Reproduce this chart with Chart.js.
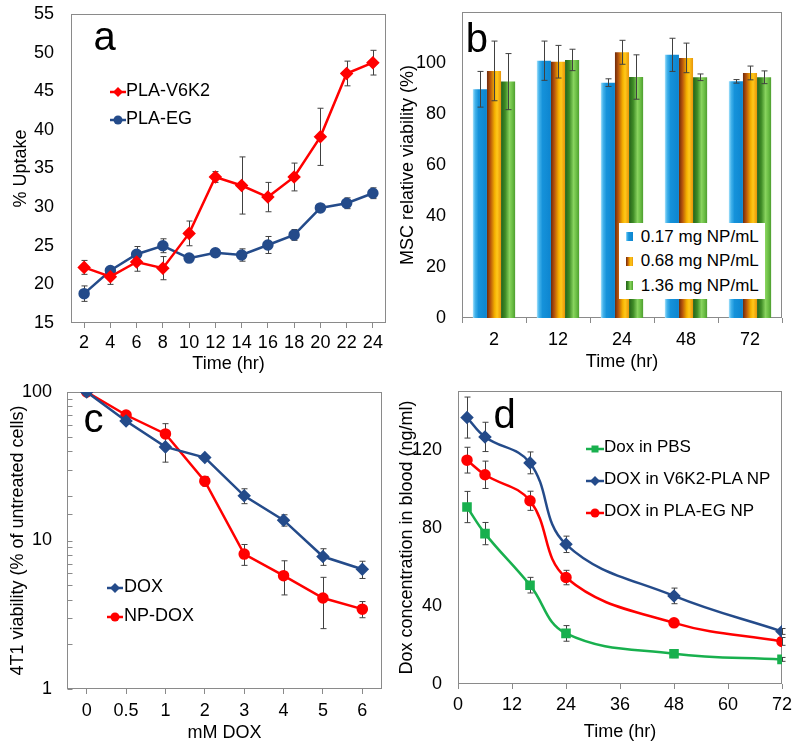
<!DOCTYPE html>
<html><head><meta charset="utf-8">
<script src="https://cdn.jsdelivr.net/npm/chart.js@4.4.0/dist/chart.umd.min.js"></script>
<style>
html,body{margin:0;padding:0;background:#fff;}
#wrap{position:relative;width:800px;height:751px;overflow:hidden;font-family:"Liberation Sans",Arial,Helvetica,sans-serif;color:#000;}
#wrap canvas{position:absolute;}
.letter{position:absolute;font-size:40px;line-height:40px;white-space:nowrap;}
.legtxt{position:absolute;white-space:nowrap;}
.legsw{position:absolute;}
#legB{position:absolute;background:#fff;}
</style>
</head><body>
<div id="wrap">
  <canvas id="cA" width="400" height="375" style="left:0;top:0"></canvas>
  <canvas id="cB" width="404" height="375" style="left:396px;top:0"></canvas>
  <canvas id="cC" width="400" height="376" style="left:0;top:375px"></canvas>
  <canvas id="cD" width="404" height="376" style="left:396px;top:375px"></canvas>
</div>
<script>
// ---------- data ----------
// panel a
const uptakeTimes = ['2','4','6','8','10','12','14','16','18','20','22','24'];
const uptakeV6K2 = [22.2,21.0,22.9,22.1,26.6,33.9,32.8,31.3,33.9,39.1,47.3,48.7];
const uptakeV6K2Err = [0.9,1.0,1.2,1.5,1.6,0.7,3.7,1.9,1.8,3.7,1.6,1.6];
const uptakeEG = [18.8,21.8,23.9,25.0,23.4,24.1,23.8,25.1,26.4,29.9,30.5,31.8];
const uptakeEGErr = [1.0,0.5,1.0,0.9,0.3,0.3,0.8,1.1,0.7,0.4,0.7,0.7];
// panel b
const viabTimes = ['2','12','24','48','72'];
const viab017 = [89.7,100.9,92.3,103.2,92.8];
const viab017Err = [7.0,7.7,1.5,6.5,0.7];
const viab068 = [96.9,100.5,104.2,102.0,96.1];
const viab068Err = [11.7,6.4,4.7,5.8,2.7];
const viab136 = [92.7,101.2,94.5,94.4,94.4];
const viab136Err = [11.0,4.2,8.7,1.3,2.5];
// panel c
const doxConc = ['0','0.5','1','2','3','4','5','6'];
const doxFree = [100,63.8,42.7,36.2,20.0,13.7,7.8,6.4];
const doxFreeErr = [0,0,9,0,2.3,1.2,1.0,0.85];
const doxNP = [100,70.0,52.2,25.1,8.1,5.8,4.1,3.45];
const doxNPErr = [0,0,9,1.9,1.3,1.5,1.55,0.43];
// panel d
const pkTimes = [2,6,16,24,48,72];
const pkPBS = [90.6,77.0,50.6,25.9,15.5,12.6];
const pkPBSErr = [8,5.7,4,4,2,1];
const pkV6K2 = [136.4,126.5,113.2,71.5,45.1,26.9];
const pkV6K2Err = [10.5,7.5,5.6,4.2,4,1.5];
const pkEG = [114.6,107.1,93.8,54.5,31.3,21.8];
const pkEGErr = [6.6,7,4.9,3.7,1.5,2];

// ---------- styles ----------
const RED = '#FF0000', BLUE = '#244B8A', GREEN = '#18B04E', FRAME = '#8a8a8a', ERR = '#404040';
const barStops = [
  [[0,'#a6e2fb'],[0.15,'#45b4ec'],[0.4,'#1592da'],[1,'#0d85cf']],
  [[0,'#6e2a0c'],[0.25,'#b8560c'],[0.55,'#f4b000'],[0.72,'#ffc81a'],[1,'#e8950a']],
  [[0,'#24621a'],[0.3,'#3f8c26'],[0.6,'#88d35e'],[0.8,'#6cbf45'],[1,'#4e9e30']]
];

Chart.defaults.font.family = '"Liberation Sans", Arial, Helvetica, sans-serif';
Chart.defaults.font.size = 18;
Chart.defaults.color = '#000';
Chart.defaults.animation = false;
Chart.defaults.plugins.legend.display = false;
Chart.defaults.plugins.tooltip.enabled = false;

function fixW(w){ return s => { s.width = w; s.paddingTop = 0; s.paddingBottom = 0; }; }
function fixH(h){ return s => { s.height = h; s.paddingLeft = 0; s.paddingRight = 0; }; }

const framePlugin = {
  id: 'frame',
  beforeDatasetsDraw(chart, args, opts) {
    const {ctx, chartArea: a} = chart;
    ctx.save();
    ctx.strokeStyle = FRAME; ctx.lineWidth = 1;
    const l = Math.round(a.left) + 0.5, t = Math.round(a.top) + 0.5;
    const r = Math.round(a.right) - 0.5, b = Math.round(a.bottom) - 0.5;
    ctx.strokeRect(l, t, r - l, b - t);
    if (opts && opts.logTicks) {
      const ys = chart.scales.y;
      ys.ticks.forEach(tk => {
        const p = Math.round(ys.getPixelForValue(tk.value)) + 0.5;
        ctx.beginPath(); ctx.moveTo(l, p); ctx.lineTo(l + 5, p); ctx.stroke();
      });
    }
    ctx.restore();
  }
};

function drawErrors(chart) {
  const ctx = chart.ctx, ys = chart.scales.y;
  ctx.save();
  ctx.strokeStyle = ERR; ctx.lineWidth = 1;
  chart.data.datasets.forEach((ds, i) => {
    if (!ds.errorBars) return;
    const meta = chart.getDatasetMeta(i);
    meta.data.forEach((el, j) => {
      const e = ds.errorBars[j];
      if (!e) return;
      const raw = ds.data[j];
      const v = (typeof raw === 'object') ? raw.y : raw;
      const top = ys.getPixelForValue(v + e), bot = ys.getPixelForValue(v - e);
      const x = Math.round(el.x) + 0.5;
      ctx.beginPath();
      ctx.moveTo(x, top); ctx.lineTo(x, bot);
      ctx.moveTo(x - 3, top); ctx.lineTo(x + 3, top);
      ctx.moveTo(x - 3, bot); ctx.lineTo(x + 3, bot);
      ctx.stroke();
    });
  });
  ctx.restore();
}
const errorBarPlugin = {
  id: 'errorBars',
  beforeDatasetsDraw(chart, args, opts) { if (!(opts && opts.front)) drawErrors(chart); },
  afterDatasetsDraw(chart, args, opts) { if (opts && opts.front) drawErrors(chart); }
};

function xGrid() { return {display: true, drawOnChartArea: false, drawTicks: true, tickLength: 5, color: FRAME}; }
const noGrid = {display: false, drawTicks: false};

// ---------- panel a ----------
new Chart(document.getElementById('cA'), {
  type: 'line',
  data: {labels: uptakeTimes, datasets: [
    {label: 'PLA-V6K2', data: uptakeV6K2, errorBars: uptakeV6K2Err, borderColor: RED, backgroundColor: RED,
     pointBorderColor: RED, pointBackgroundColor: RED, pointStyle: 'rectRot', pointRadius: 5, borderWidth: 2.5, tension: 0},
    {label: 'PLA-EG', data: uptakeEG, errorBars: uptakeEGErr, borderColor: BLUE, backgroundColor: BLUE,
     pointBorderColor: BLUE, pointBackgroundColor: BLUE, pointStyle: 'circle', pointRadius: 4.5, borderWidth: 2.5, tension: 0}
  ]},
  options: {
    responsive: false,
    layout: {padding: {left: 0, top: 14, right: 14, bottom: 0}},
    scales: {
      x: {offset: true, grid: xGrid(), border: {display: false},
          ticks: {padding: 4, autoSkip: false, maxRotation: 0},
          title: {display: true, text: 'Time (hr)', padding: {top: 0, bottom: 0}}, afterFit: fixH(52)},
      y: {min: 15, max: 55, grid: noGrid, border: {display: false},
          ticks: {stepSize: 5, padding: 17},
          title: {display: true, text: '% Uptake', font: {size: 18, lineHeight: 1}, padding: {top: 12, bottom: 0}},
          afterFit: fixW(71)}
    },
    plugins: {errorBars: {front: false}}
  },
  plugins: [framePlugin, errorBarPlugin]
});

// ---------- panel b ----------
function barFill(context) {
  const chart = context.chart;
  const stops = barStops[context.datasetIndex];
  const xs = chart.scales && chart.scales.x;
  if (!chart.chartArea || !xs || context.type !== 'data') return stops[2][1];
  const n = chart.data.labels.length;
  const cat = xs.width / n;
  const group = cat * 0.66, bw = group / 3;
  const x0 = xs.getPixelForValue(context.dataIndex) - group / 2 + context.datasetIndex * bw;
  const g = chart.ctx.createLinearGradient(x0, 0, x0 + bw, 0);
  stops.forEach(s => g.addColorStop(s[0], s[1]));
  return g;
}
new Chart(document.getElementById('cB'), {
  type: 'bar',
  data: {labels: viabTimes, datasets: [
    {label: '0.17 mg NP/mL', data: viab017, errorBars: viab017Err, backgroundColor: barFill, borderWidth: 0},
    {label: '0.68 mg NP/mL', data: viab068, errorBars: viab068Err, backgroundColor: barFill, borderWidth: 0},
    {label: '1.36 mg NP/mL', data: viab136, errorBars: viab136Err, backgroundColor: barFill, borderWidth: 0}
  ]},
  options: {
    responsive: false,
    categoryPercentage: 0.66, barPercentage: 1.0,
    layout: {padding: {left: 0, top: 12, right: 18, bottom: 0}},
    scales: {
      x: {grid: xGrid(), border: {display: false},
          ticks: {padding: 6.5, autoSkip: false, maxRotation: 0},
          title: {display: true, text: 'Time (hr)', padding: {top: 0, bottom: 2.5}}, afterFit: fixH(57)},
      y: {min: 0, max: 120, grid: noGrid, border: {display: false},
          ticks: {stepSize: 20, padding: 16, callback: v => (v >= 120 ? '' : String(v))},
          title: {display: true, text: 'MSC relative viability (%)', font: {size: 18, lineHeight: 1}, padding: {top: 3.3, bottom: 0}},
          afterFit: fixW(66)}
    },
    plugins: {errorBars: {front: true}}
  },
  plugins: [framePlugin, errorBarPlugin]
});

// ---------- panel c ----------
new Chart(document.getElementById('cC'), {
  type: 'line',
  data: {labels: doxConc, datasets: [
    {label: 'DOX', data: doxFree, errorBars: doxFreeErr, borderColor: BLUE, backgroundColor: BLUE,
     pointBorderColor: BLUE, pointBackgroundColor: BLUE, pointStyle: 'rectRot', pointRadius: 5, borderWidth: 2.5, tension: 0},
    {label: 'NP-DOX', data: doxNP, errorBars: doxNPErr, borderColor: RED, backgroundColor: RED,
     pointBorderColor: RED, pointBackgroundColor: RED, pointStyle: 'circle', pointRadius: 4.5, borderWidth: 2.5, tension: 0}
  ]},
  options: {
    responsive: false,
    layout: {padding: {left: 0, top: 17, right: 18, bottom: 0}},
    scales: {
      x: {offset: true, grid: xGrid(), border: {display: false},
          ticks: {padding: 6.6, autoSkip: false, maxRotation: 0},
          title: {display: true, text: 'mM DOX', padding: {top: 0, bottom: 7}}, afterFit: fixH(62)},
      y: {type: 'logarithmic', min: 1, max: 100, grid: noGrid, border: {display: false},
          ticks: {padding: 15, autoSkip: false, callback: v => { const l = Math.log10(v); return Math.abs(l - Math.round(l)) < 1e-6 ? String(Math.round(v)) : ''; }},
          title: {display: true, text: '4T1 viability (% of untreated cells)', font: {size: 18, lineHeight: 1}, padding: {top: 9, bottom: 0}},
          afterFit: fixW(67)}
    },
    plugins: {frame: {logTicks: true}, errorBars: {front: false}}
  },
  plugins: [framePlugin, errorBarPlugin]
});

// ---------- panel d ----------
const pts = arr => pkTimes.map((t, i) => ({x: t, y: arr[i]}));
new Chart(document.getElementById('cD'), {
  type: 'line',
  data: {datasets: [
    {label: 'Dox in PBS', data: pts(pkPBS), errorBars: pkPBSErr, borderColor: GREEN, backgroundColor: GREEN,
     pointBorderColor: GREEN, pointBackgroundColor: GREEN, pointStyle: 'rect', pointRadius: 5, borderWidth: 2.5, tension: 0.4},
    {label: 'DOX in V6K2-PLA NP', data: pts(pkV6K2), errorBars: pkV6K2Err, borderColor: BLUE, backgroundColor: BLUE,
     pointBorderColor: BLUE, pointBackgroundColor: BLUE, pointStyle: 'rectRot', pointRadius: 5, borderWidth: 2.5, tension: 0.4},
    {label: 'DOX in PLA-EG NP', data: pts(pkEG), errorBars: pkEGErr, borderColor: RED, backgroundColor: RED,
     pointBorderColor: RED, pointBackgroundColor: RED, pointStyle: 'circle', pointRadius: 4.5, borderWidth: 2.5, tension: 0.4}
  ]},
  options: {
    responsive: false,
    layout: {padding: {left: 0, top: 16, right: 18, bottom: 0}},
    scales: {
      x: {type: 'linear', min: 0, max: 72, grid: xGrid(), border: {display: false},
          ticks: {stepSize: 12, padding: 5.2, autoSkip: false, maxRotation: 0},
          title: {display: true, text: 'Time (hr)', padding: {top: 0, bottom: 8.5}}, afterFit: fixH(67)},
      y: {min: 0, max: 150, grid: noGrid, border: {display: false},
          ticks: {stepSize: 40, padding: 16, callback: v => (v % 40 === 0 ? String(v) : '')},
          title: {display: true, text: 'Dox concentration in blood (ng/ml)', font: {size: 18, lineHeight: 1}, padding: {top: 2, bottom: 0}},
          afterFit: fixW(62)}
    },
    plugins: {errorBars: {front: false}}
  },
  plugins: [framePlugin, errorBarPlugin]
});

// ---------- overlays: panel letters & legends ----------
const wrap = document.getElementById('wrap');
function addLetter(txt, left, top) {
  const d = document.createElement('div');
  d.className = 'letter'; d.textContent = txt;
  d.style.left = left + 'px'; d.style.top = top + 'px';
  wrap.appendChild(d);
}
addLetter('a', 93.5, 16);
addLetter('b', 465.7, 17.8);
addLetter('c', 83.4, 398.4);
addLetter('d', 493.6, 394.4);

function markerSVG(color, style, w) {
  const cy = 6, cx = w / 2;
  let m = '';
  if (style === 'rectRot') m = `<polygon points="${cx},${cy-5} ${cx+5},${cy} ${cx},${cy+5} ${cx-5},${cy}" fill="${color}"/>`;
  else if (style === 'circle') m = `<circle cx="${cx}" cy="${cy}" r="4.5" fill="${color}"/>`;
  else m = `<rect x="${cx-3.5}" y="${cy-3.5}" width="7" height="7" fill="${color}"/>`;
  return `<svg width="${w}" height="12" viewBox="0 0 ${w} 12"><line x1="0" y1="${cy}" x2="${w}" y2="${cy}" stroke="${color}" stroke-width="2.5"/>${m}</svg>`;
}
function addLineLegend(rows, swX, swW, txtX, size) {
  rows.forEach(r => {
    const s = document.createElement('div');
    s.className = 'legsw';
    s.style.left = swX + 'px'; s.style.top = (r.y - 6) + 'px';
    s.innerHTML = markerSVG(r.color, r.style, swW);
    wrap.appendChild(s);
    const t = document.createElement('div');
    t.className = 'legtxt'; t.textContent = r.label;
    t.style.fontSize = size + 'px'; t.style.lineHeight = '20px';
    t.style.left = txtX + 'px'; t.style.top = (r.y - 10) + 'px';
    wrap.appendChild(t);
  });
}
addLineLegend([
  {label: 'PLA-V6K2', color: RED, style: 'rectRot', y: 90},
  {label: 'PLA-EG', color: BLUE, style: 'circle', y: 118.3}
], 110, 16, 126, 18);
addLineLegend([
  {label: 'DOX', color: BLUE, style: 'rectRot', y: 585.7},
  {label: 'NP-DOX', color: RED, style: 'circle', y: 615}
], 106.5, 16, 124, 18);
addLineLegend([
  {label: 'Dox in PBS', color: GREEN, style: 'rect', y: 446.7},
  {label: 'DOX in V6K2-PLA NP', color: BLUE, style: 'rectRot', y: 479.3},
  {label: 'DOX in PLA-EG NP', color: RED, style: 'circle', y: 511}
], 586, 18, 604, 17);

// panel b legend (boxed, white)
const lb = document.createElement('div');
lb.id = 'legB';
lb.style.left = '619px'; lb.style.top = '222.7px'; lb.style.width = '146px'; lb.style.height = '76px';
wrap.appendChild(lb);
const bLabels = ['0.17 mg NP/mL', '0.68 mg NP/mL', '1.36 mg NP/mL'];
const bRowY = [236.7, 261.3, 285.8];
bLabels.forEach((lab, i) => {
  const sw = document.createElement('div');
  sw.className = 'legsw';
  sw.style.left = '626px'; sw.style.top = (bRowY[i] - 4.5) + 'px';
  sw.style.width = '7px'; sw.style.height = '9px';
  sw.style.background = 'linear-gradient(to right,' + barStops[i].map(s => s[1] + ' ' + (s[0] * 100) + '%').join(',') + ')';
  wrap.appendChild(sw);
  const t = document.createElement('div');
  t.className = 'legtxt'; t.textContent = lab;
  t.style.fontSize = '17px'; t.style.lineHeight = '20px';
  t.style.left = '640.7px'; t.style.top = (bRowY[i] - 10) + 'px';
  wrap.appendChild(t);
});
</script>
</body></html>
